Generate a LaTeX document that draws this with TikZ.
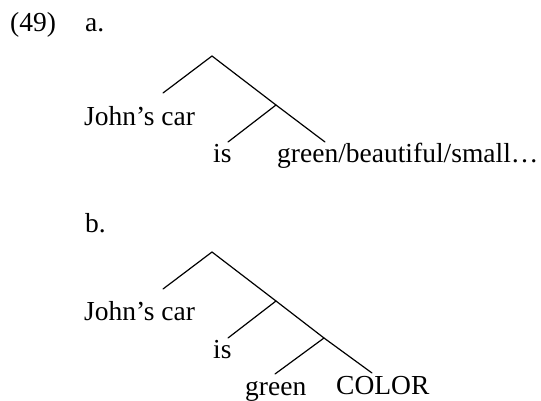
\documentclass[tikz,border=0pt]{standalone}
\usepackage{fontspec}
\setmainfont{Liberation Serif}
\begin{document}
\begin{tikzpicture}[x=1pt,y=-1pt,
  word/.style={anchor=base west,inner sep=0pt,font=\fontsize{27.5}{32}\selectfont},
  branch/.style={line width=1.2pt,line cap=round}]
\useasboundingbox (0,0) rectangle (541,400);

% labels
\node[word] (num) at (10,31.7) {(49)};
\node[word] (la) at (85,31.7) {a.};
\node[word] (lb) at (85,232) {b.};

% tree (a)
\node[word] (johnA) at (84,125) {John’s car};
\node[word] (isA) at (213,162) {is};
\node[word] (predA) at (277,162) {green/beautiful/small…};
\coordinate (topA) at (212,56);
\coordinate (midA) at (276,105);
\coordinate (johnAend) at (163,93);
\coordinate (isAend) at (228,142);
\coordinate (predAend) at (325,142);
\draw[branch] (johnAend) -- (topA) -- (midA) -- (predAend);
\draw[branch] (isAend) -- (midA);

% tree (b)
\node[word] (johnB) at (84,320) {John’s car};
\node[word] (isB) at (213,358) {is};
\node[word] (greenB) at (245,395) {green};
\node[word] (colorB) at (336,394) {COLOR};
\coordinate (topB) at (212,252);
\coordinate (midB) at (276,301);
\coordinate (lowB) at (324,338);
\coordinate (johnBend) at (163,289);
\coordinate (isBend) at (228,338);
\coordinate (greenBend) at (275,374);
\coordinate (colorBend) at (372,373);
\draw[branch] (johnBend) -- (topB) -- (midB) -- (lowB) -- (colorBend);
\draw[branch] (isBend) -- (midB);
\draw[branch] (greenBend) -- (lowB);
\end{tikzpicture}
\end{document}
